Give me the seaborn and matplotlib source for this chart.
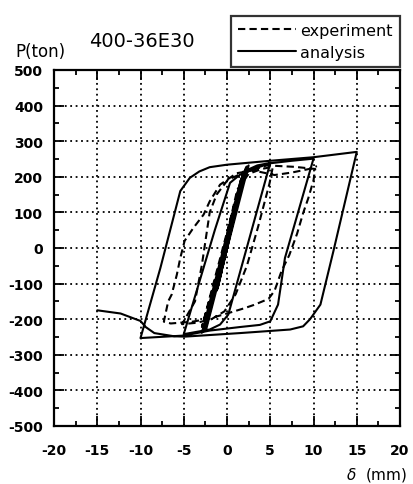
import numpy as np
import pandas as pd
import seaborn as sns
import matplotlib
matplotlib.use("Agg")
import matplotlib.pyplot as plt
from matplotlib.lines import Line2D
from matplotlib.ticker import MultipleLocator

# Load-displacement hysteresis of specimen 400-36E30
title_text = "400-36E30"
series_names = ["experiment", "analysis"]

# experiment: displacement delta (mm) and load P (ton), in loading order
exp_delta = [0, 0.9, -1.0, 1.0, -1.1,
             2.0, -2.3, 2.1, -2.5, 1.7, -2.9, 2.2, -2.6,
             -1.2, 0.2, 1.2, 2.5, 4.0, 5.3,
             4.9, 3.6, 2.3, 1.0, -0.3, -1.8, -3.5, -5.2,
             -3.7, -2.9, -2.0, -1.2, 0.1, 2.0, 4.6, 7.8, 10.2,
             10.0, 9.4, 8.8, 8.1, 7.2, 6.3, 5.5, 4.8, 3.1, 1.9, 0.0, -2.0, -4.0, -6.5, -7.3,
             -6.8, -6.4, -5.8, -5.4, -4.9, -3.9, -2.7, -2.0, -0.8, 1.1, 3.0, 5.5, 7.5, 9.5, 10.4]
exp_load = [0, 95, -105, 100, -110,
            205, -212, 210, -218, 200, -222, 215, -225,
            -90, 60, 165, 208, 222, 228,
            180, 60, -50, -130, -178, -200, -210, -214,
            -150, -47, 100, 150, 192, 212, 232, 228, 222,
            190, 140, 98, 40, -20, -65, -120, -143, -160, -170, -184, -198, -207, -212, -207,
            -150, -131, -75, -28, 20, 56, 94, 131, 178, 210, 218, 205, 212, 222, 230]

# analysis: displacement delta (mm) and load P (ton), in loading order
ana_delta = [0, 1.0, -1.1, 1.1, -1.2,
             2.2, -2.6, 2.3, -2.7, 1.9, -2.4, 2.5, -2.9,
             1.6, 2.6, 3.5, 5.0,
             0.15, -0.8, -2.0, -5.0,
             -1.4, 0.35, 1.5, 3.4, 5.0, 7.5, 10.0,
             6.7, 5.9, 5.0, 3.8, 1.5, -2.0, -5.0, -10.0,
             -7.7, -5.4, -4.3, -3.2, -2.0, 0.0, 5.0, 10.0, 15.0,
             12.3, 10.8, 9.6, 8.8, 7.3, 1.5, -4.9, -6.1, -8.4, -9.4, -10.0, -12.3, -15.0]
ana_load = [0, 110, -115, 115, -120,
            226, -232, 229, -234, 215, -228, 232, -238,
            190, 222, 232, 239,
            -187, -215, -229, -242,
            51, 183, 206, 225, 238, 245, 251,
            -28, -159, -206, -216, -222, -232, -246, -253,
            -56, 160, 197, 215, 227, 234, 245, 255, 270,
            -9, -159, -200, -220, -229, -239, -249, -248, -239, -222, -205, -184, -175]

x_ticks = [-20, -15, -10, -5, 0, 5, 10, 15, 20]
y_ticks = [500, 400, 300, 200, 100, 0, -100, -200, -300, -400, -500]

df_exp = pd.DataFrame({"delta": exp_delta, "P": exp_load})
df_ana = pd.DataFrame({"delta": ana_delta, "P": ana_load})

sns.set_theme(style="ticks")
plt.rcParams["font.family"] = ["DejaVu Sans"]
plt.rcParams["axes.unicode_minus"] = False
plt.rcParams["text.color"] = "black"
plt.rcParams["axes.labelcolor"] = "black"
plt.rcParams["xtick.color"] = "black"
plt.rcParams["ytick.color"] = "black"

fig = plt.figure(figsize=(4.14, 4.85), dpi=100)
ax = fig.add_axes([54 / 414, 1 - 427 / 485, 346 / 414, 356 / 485])

dash_style = (0, (3.5, 2.0))
sns.lineplot(data=df_exp, x="delta", y="P", sort=False, estimator=None,
             color="black", lw=1.5, ax=ax, linestyle=dash_style)
sns.lineplot(data=df_ana, x="delta", y="P", sort=False, estimator=None,
             color="black", lw=1.5, ax=ax)

ax.set_xlim(-20, 20)
ax.set_ylim(-500, 500)
ax.set_xticks(x_ticks)
ax.set_xticklabels([str(v) for v in x_ticks], fontweight="bold")
ax.set_yticks(y_ticks)
ax.set_yticklabels([str(v) for v in y_ticks], fontweight="bold")
ax.xaxis.set_minor_locator(MultipleLocator(2.5))
ax.yaxis.set_minor_locator(MultipleLocator(50))
ax.set_xlabel("")
ax.set_ylabel("")

ax.grid(True, which="major", color="black", linestyle=(0, (1.0, 2.0)), lw=1.3)
for s in ax.spines.values():
    s.set_linewidth(1.6)
    s.set_color("black")
    s.set_visible(True)

ax.tick_params(which="both", direction="in", top=True, right=True,
               colors="black", width=1.3)
ax.tick_params(which="major", length=7)
ax.tick_params(which="minor", length=3.5)
ax.tick_params(axis="x", which="major", pad=12, labelsize=10)
ax.tick_params(axis="y", which="major", pad=8, labelsize=10)

fig.text(15 / 414, 1 - 57 / 485, "P(ton)", fontsize=12, ha="left", va="baseline",
         color="black")
fig.text(142 / 414, 1 - 47 / 485, title_text, fontsize=14, ha="center", va="baseline",
         color="black")
fig.text(407 / 414, 1 - 480 / 485, r"$\delta$  (mm)", fontsize=11, ha="right",
         va="baseline", color="black")

handles = [Line2D([], [], color="black", lw=1.5, linestyle=dash_style),
           Line2D([], [], color="black", lw=1.5)]
leg = ax.legend(handles, series_names, loc="lower right", bbox_to_anchor=(1.0, 1.008),
                borderaxespad=0, frameon=True, fancybox=False, fontsize=11.5,
                handlelength=3.6, handletextpad=0.3, labelspacing=0.45,
                borderpad=0.45, labelcolor="black")
leg.get_frame().set_edgecolor("black")
leg.get_frame().set_linewidth(1.6)

fig.savefig("out.png", dpi=100)
